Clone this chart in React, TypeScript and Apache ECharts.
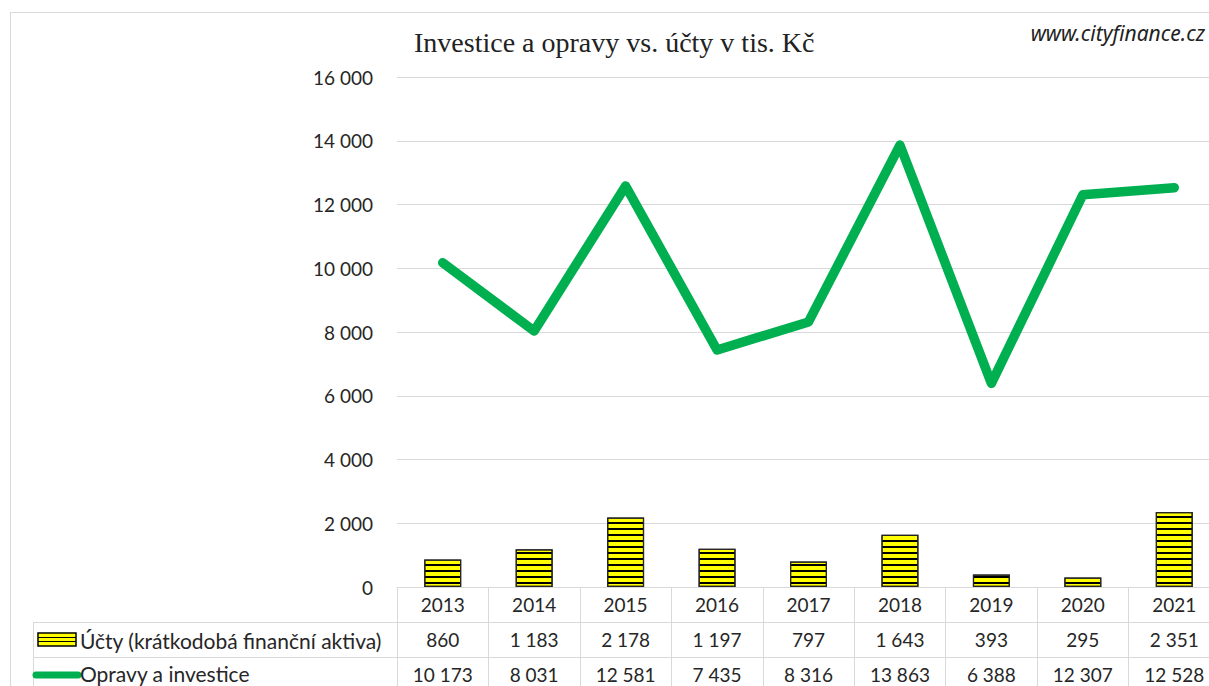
import React, { useEffect, useRef } from "react";
import * as echarts from "echarts";

const years = ["2013", "2014", "2015", "2016", "2017", "2018", "2019", "2020", "2021"];
const ucty = [860, 1183, 2178, 1197, 797, 1643, 393, 295, 2351];
const opravy = [10173, 8031, 12581, 7435, 8316, 13863, 6388, 12307, 12528];
const titleText = "Investice a opravy vs. účty v tis. Kč";
const sourceText = "www.cityfinance.cz";
const seriesNames = ["Účty (krátkodobá finanční aktiva)", "Opravy a investice"];

const fmt = (v: number) => String(v).replace(/\B(?=(\d{3})+(?!\d))/g, " ");

const FONT = "Lato";
const TEXT = "#262626";
const GRID_C = "#d9d9d9";

export default function App() {
  const ref = useRef<HTMLDivElement>(null);
  useEffect(() => {
    if (!ref.current) return;
    const chart = echarts.init(ref.current, undefined, { renderer: "svg" });
    const gridTop = 77;
    const axisY = 587;
    const row2 = 622.5;
    const row3 = 657.5;
    const legendLeft = 33;
    const plotLeft = 397;
    chart.setOption({
      animation: false,
      backgroundColor: "#fff",
      grid: {
        left: plotLeft,
        right: -11,
        top: gridTop,
        bottom: 686 - axisY,
        containLabel: false,
        outerBoundsMode: "none",
      },
      xAxis: {
        type: "category",
        data: years,
        boundaryGap: true,
        axisLine: { show: true, lineStyle: { color: GRID_C, width: 1 } },
        axisTick: { show: true, length: 120, lineStyle: { color: GRID_C, width: 1 } },
        axisLabel: {
          margin: 0,
          lineHeight: 35,
          fontSize: 19,
          fontFamily: FONT,
          color: TEXT,
          formatter: (_v: string, i: number) => `${years[i]}\n${fmt(ucty[i])}\n${fmt(opravy[i])}`,
        },
      },
      yAxis: {
        type: "value",
        min: 0,
        max: 16000,
        interval: 2000,
        axisLine: { show: false },
        axisTick: { show: false },
        splitLine: { lineStyle: { color: GRID_C, width: 1 } },
        axisLabel: { margin: 24, fontSize: 19, fontFamily: FONT, color: TEXT, formatter: (v: number) => fmt(v) },
      },
      series: [
        {
          name: seriesNames[0],
          type: "bar",
          data: ucty,
          barWidth: 37,
          itemStyle: {
            color: "#ffff00",
            borderColor: "#262626",
            borderWidth: 1.2,
            decal: {
              symbol: "rect",
              color: "#000",
              dashArrayX: [1, 0],
              dashArrayY: [1.2, 3.8],
              symbolSize: 1,
              rotation: 0,
            },
          },
        },
        {
          name: seriesNames[1],
          type: "line",
          data: opravy,
          symbol: "none",
          lineStyle: { color: "#00b050", width: 9.5, cap: "round", join: "round" },
          itemStyle: { color: "#00b050" },
        },
      ],
      graphic: [
        { type: "line", shape: { x1: 10, y1: 12.5, x2: 1209, y2: 12.5 }, style: { stroke: GRID_C, lineWidth: 1 } },
        { type: "line", shape: { x1: 10.5, y1: 12, x2: 10.5, y2: 686 }, style: { stroke: GRID_C, lineWidth: 1 } },
        { type: "line", shape: { x1: legendLeft, y1: row2, x2: 1209, y2: row2 }, style: { stroke: GRID_C, lineWidth: 1 } },
        { type: "line", shape: { x1: legendLeft, y1: row3, x2: 1209, y2: row3 }, style: { stroke: GRID_C, lineWidth: 1 } },
        { type: "line", shape: { x1: legendLeft + 0.5, y1: row2, x2: legendLeft + 0.5, y2: 686 }, style: { stroke: GRID_C, lineWidth: 1 } },
        {
          type: "text",
          left: 414,
          top: 28,
          style: { text: titleText, font: "28px 'Liberation Serif'", fill: "#222" },
        },
        {
          type: "text",
          right: 4,
          top: 22,
          style: { text: sourceText, font: "italic 21px 'Noto Sans'", fill: "#222" },
        },
        {
          type: "group",
          children: [
            { type: "rect", shape: { x: 38, y: 633, width: 38, height: 13 }, style: { fill: "#ffff00", stroke: "#000", lineWidth: 1.5 } },
            { type: "line", shape: { x1: 38, y1: 637.5, x2: 76, y2: 637.5 }, style: { stroke: "#000", lineWidth: 1.2 } },
            { type: "line", shape: { x1: 38, y1: 641.5, x2: 76, y2: 641.5 }, style: { stroke: "#000", lineWidth: 1.2 } },
            { type: "line", shape: { x1: 36, y1: 675, x2: 78, y2: 675 }, style: { stroke: "#00b050", lineWidth: 7, lineCap: "round" } },
          ],
        },
        {
          type: "text",
          x: 80,
          y: (row2 + row3) / 2,
          style: { text: seriesNames[0], font: `21px ${FONT}`, fill: TEXT, verticalAlign: "middle" },
        },
        {
          type: "text",
          x: 80,
          y: row3 + 16,
          style: { text: seriesNames[1], font: `21px ${FONT}`, fill: TEXT, verticalAlign: "middle" },
        },
      ],
    });
    return () => chart.dispose();
  }, []);
  return (
    <div
      ref={ref}
      style={{ position: "fixed", left: 0, top: 0, width: 1209, height: 686, background: "#fff" }}
    />
  );
}
